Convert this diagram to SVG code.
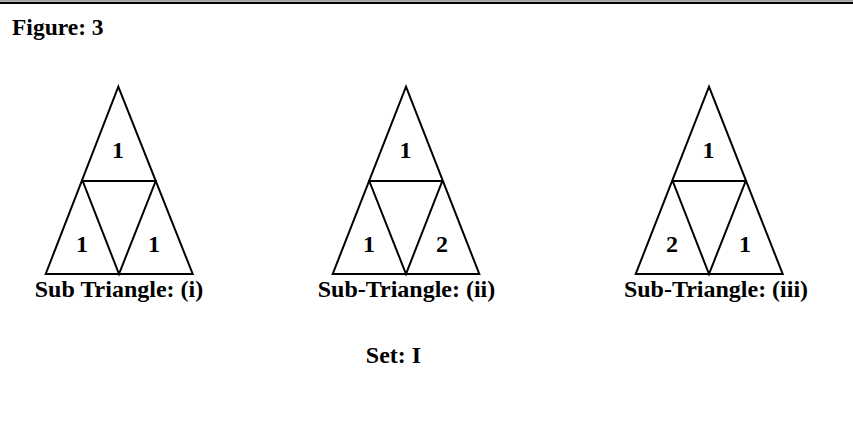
<svg xmlns="http://www.w3.org/2000/svg" width="853" height="421" viewBox="0 0 853 421">
<style>
.t{font-family:"Liberation Serif","Times New Roman",serif;font-weight:bold;fill:#000}
.lbl{font-size:24px;text-anchor:middle}
.num{font-size:24px;text-anchor:middle}
.tri{fill:none;stroke:#000;stroke-width:2;stroke-linejoin:miter}
</style>
<rect x="0" y="0" width="853" height="421" fill="#fff"/>
<line x1="0" y1="0.6" x2="853" y2="0.6" stroke="#999" stroke-width="1"/>
<line x1="0" y1="2.9" x2="853" y2="2.9" stroke="#000" stroke-width="2.3"/>
<text class="t" x="12" y="35" font-size="23.5">Figure: 3</text>

<g id="tri1">
<path class="tri" d="M118.3,86.7 L192.7,274 L45.7,274 Z M82.7,181 L155.7,181 L119,274 Z"/>
<text class="t num" x="118" y="158">1</text>
<text class="t num" x="82" y="252">1</text>
<text class="t num" x="154" y="252">1</text>
<text class="t lbl" x="119" y="297">Sub Triangle: (i)</text>
</g>

<g id="tri2">
<path class="tri" d="M406,86.7 L479.3,274 L332.7,274 Z M369.3,181 L442.3,181 L406,274 Z"/>
<text class="t num" x="405.5" y="158">1</text>
<text class="t num" x="369" y="252">1</text>
<text class="t num" x="442" y="252">2</text>
<text class="t lbl" x="406.5" y="297">Sub-Triangle: (ii)</text>
</g>

<g id="tri3">
<path class="tri" d="M709,86.7 L782.7,274 L635.7,274 Z M672.7,181 L745.7,181 L709,274 Z"/>
<text class="t num" x="708.5" y="158">1</text>
<text class="t num" x="672" y="252">2</text>
<text class="t num" x="745" y="252">1</text>
<text class="t lbl" x="716" y="297">Sub-Triangle: (iii)</text>
</g>

<g id="connectors"></g>

<text class="t" x="393.5" y="363" font-size="24" text-anchor="middle">Set: I</text>
</svg>
